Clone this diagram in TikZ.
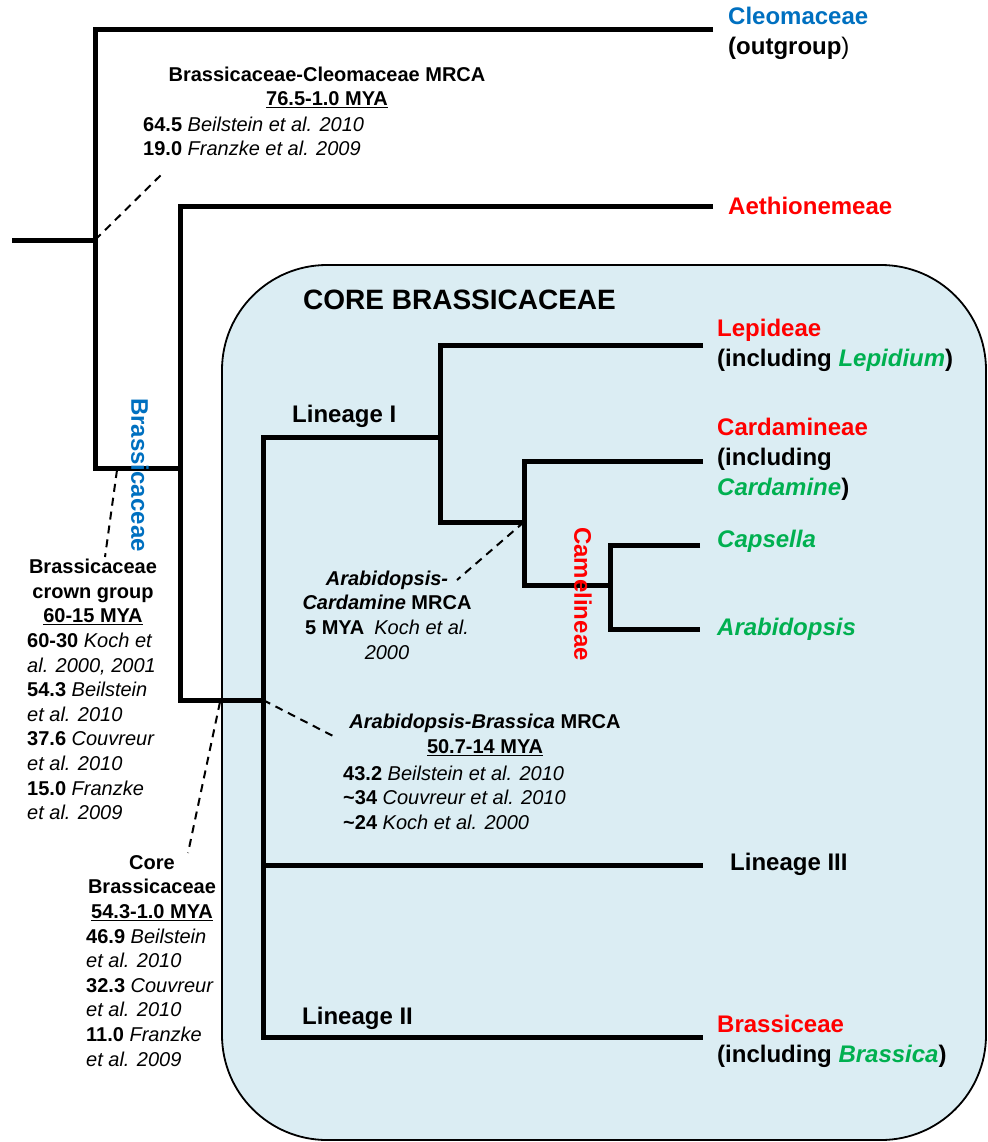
\documentclass[tikz,border=0pt]{standalone}
\usepackage{fontspec}
\setmainfont{Liberation Sans}
\usepackage{tikz}
\usetikzlibrary{positioning}

\definecolor{cladered}{RGB}{255,0,0}
\definecolor{cladeblue}{RGB}{0,112,192}
\definecolor{genusgreen}{RGB}{0,176,80}
\definecolor{corefill}{RGB}{219,237,243}

\newcommand{\pubref}[1]{{\mdseries\itshape #1}}
\newcommand{\genus}[1]{\textcolor{genusgreen}{\itshape #1}}

\begin{document}
\begin{tikzpicture}[x=1pt, y=-1pt,
    branch/.style={line width=5pt},
    link/.style={line width=2pt, dash pattern=on 8pt off 6pt},
    taxon/.style={font=\bfseries\fontsize{24}{30}\selectfont, inner sep=0pt, anchor=west, align=left},
    note/.style={font=\bfseries\fontsize{20}{24.6}\selectfont, inner sep=0pt}]
    \useasboundingbox (0,0) rectangle (987,1142);
    % core brassicaceae box
    \draw[line width=1.8pt, fill=corefill, rounded corners=105pt] (222,265) rectangle (986,1140);

    % tree nodes and tips
    \coordinate (split) at (95,240);
    \coordinate (cleo) at (713,30);
    \coordinate (bras) at (180,468);
    \coordinate (aeth) at (713,206);
    \coordinate (core) at (263,700);
    \coordinate (linI) at (440,437);
    \coordinate (lepi) at (703,345);
    \coordinate (card) at (524,522);
    \coordinate (cardtip) at (703,461);
    \coordinate (came) at (610,585);
    \coordinate (caps) at (700,545);
    \coordinate (arab) at (700,629);
    \coordinate (linIII) at (703,865);
    \coordinate (linII) at (703,1037);

    \draw[branch] (12,240) -- (split);
    \draw[branch] (cleo) -| (split) |- (bras);
    \draw[branch] (aeth) -| (bras) |- (core);
    \draw[branch] (linI) -| (core) |- (linII);
    \draw[branch] (core |- linIII) -- (linIII);
    \draw[branch] (lepi) -| (linI) |- (card);
    \draw[branch] (cardtip) -| (card) |- (came);
    \draw[branch] (caps) -| (came) |- (arab);

    % tips
    \node[taxon] (cleolbl) at (728,33) {\textcolor{cladeblue}{Cleomaceae}\\(outgroup\textmd{)}};
    \node[taxon, text=cladered] (aethlbl) at (728,206) {Aethionemeae};
    \node[taxon] (lepilbl) at (717,345) {\textcolor{cladered}{Lepideae}\\(including \genus{Lepidium})};
    \node[taxon] (cardlbl) at (717,459) {\textcolor{cladered}{Cardamineae}\\(including\\\genus{Cardamine})};
    \node[taxon] (capslbl) at (717,541) {\genus{Capsella}};
    \node[taxon] (arablbl) at (717,629) {\genus{Arabidopsis}};
    \node[taxon] (linIIIlbl) at (730,864) {Lineage III};
    \node[taxon] (brassilbl) at (717,1041) {\textcolor{cladered}{Brassiceae}\\(including \genus{Brassica})};

    % clades
    \node[taxon, font=\bfseries\fontsize{28}{34}\selectfont] (corelbl) at (303,300) {CORE BRASSICACEAE};
    \node[taxon] (linIlbl) at (292,416) {Lineage I};
    \node[taxon] (linIIlbl) at (302,1018) {Lineage II};
    \node[taxon, rotate=-90, anchor=center, text=cladeblue] (famlbl) at (140,475) {Brassicaceae};
    \node[taxon, rotate=-90, anchor=center, text=cladered] (camelbl) at (583,594) {Camelineae};

    % dates
    \node[note, align=center] (bcmrca) at (327,87.5) {Brassicaceae-Cleomaceae MRCA\\\underline{76.5-1.0 MYA}};
    \node[note, align=left, anchor=west] (bcdates) at (143,136.5) {64.5 \pubref{Beilstein et al. 2010}\\19.0 \pubref{Franzke et al. 2009}};
    \node[note, align=center] (crownhead) at (93,592) {Brassicaceae\\crown group\\\underline{60-15 MYA}};
    \node[note, align=left, anchor=west] (crowndates) at (27,726.5) {60-30 \pubref{Koch et}\\\pubref{al. 2000, 2001}\\54.3 \pubref{Beilstein}\\\pubref{et al. 2010}\\37.6 \pubref{Couvreur}\\\pubref{et al. 2010}\\15.0 \pubref{Franzke}\\\pubref{et al. 2009}};
    \node[note, align=center] (corehead) at (152,888) {Core\\Brassicaceae\\\underline{54.3-1.0 MYA}};
    \node[note, align=left, anchor=west] (coredates) at (86,997.5) {46.9 \pubref{Beilstein}\\\pubref{et al. 2010}\\32.3 \pubref{Couvreur}\\\pubref{et al. 2010}\\11.0 \pubref{Franzke}\\\pubref{et al. 2009}};
    \node[note, align=center] (acmrca) at (387,615) {\textit{Arabidopsis-}\\\textit{Cardamine} MRCA\\5 MYA\enspace\pubref{Koch et al.}\\\pubref{2000}};
    \node[note, align=center] (abmrca) at (485,735) {\textit{Arabidopsis-Brassica} MRCA\\\underline{50.7-14 MYA}};
    \node[note, align=left, anchor=west] (abdates) at (343,797.5) {43.2 \pubref{Beilstein et al. 2010}\\\textasciitilde34 \pubref{Couvreur et al. 2010}\\\textasciitilde24 \pubref{Koch et al. 2000}};

    % dashed pointers
    \coordinate (bcend) at (164,172);
    \coordinate (crownfoot) at (117,470);
    \coordinate (crownend) at (105,557);
    \coordinate (corefoot) at (220,702);
    \coordinate (coreend) at (188,853);
    \coordinate (abend) at (335,737);
    \coordinate (acend) at (457,580);
    \draw[link] (split) -- (bcend);
    \draw[link] (crownfoot) -- (crownend);
    \draw[link] (corefoot) -- (coreend);
    \draw[link] (core) -- (abend);
    \draw[link] (card) -- (acend);
\end{tikzpicture}
\end{document}
